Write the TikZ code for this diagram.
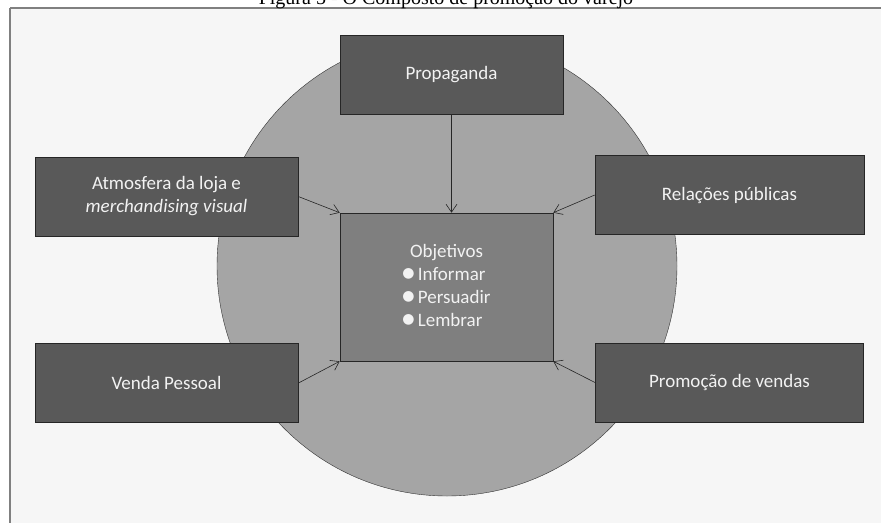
\documentclass[tikz,border=0pt]{standalone}
\usepackage{fontspec}
\setmainfont{Carlito}
\newfontfamily\capfont{Liberation Serif}
\newfontfamily\symfont{DejaVu Sans}
\usepackage{tikz}
\usetikzlibrary{positioning, arrows.meta}
\usepackage{xcolor}
\definecolor{boxgray}{HTML}{595959}
\definecolor{midgray}{HTML}{7F7F7F}
\definecolor{ringgray}{HTML}{A5A5A5}
\definecolor{backgray}{HTML}{F6F6F6}
\definecolor{framegray}{HTML}{808080}
\definecolor{textwhite}{HTML}{F2F2F2}
\newcommand{\bul}{\raisebox{2.2pt}{\symfont\fontsize{14}{14}\selectfont ●}\,}

\begin{document}
\begin{tikzpicture}[x=1pt, y=-1pt, ->, >={Straight Barb[length=8pt,width=11pt]}, semithick,
    box/.style={rectangle, draw=black!85, fill=boxgray, text=textwhite, align=center,
      minimum width=263pt, minimum height=79pt, inner sep=0pt, font=\fontsize{19}{23}\selectfont}]
      \useasboundingbox (0,0) rectangle (881,523);
      \clip (0,0) rectangle (881,523);

      % frame and caption
      \fill[backgray] (10,8) rectangle (881,523);
      \draw[-, framegray, line width=1.2pt] (10,8) -- (881,8);
      \draw[-, framegray, line width=2pt] (10,8) -- (10,523);
      \node (cap) at (446,4.5) [anchor=base, inner sep=0pt, font=\capfont\fontsize{20}{20}\selectfont] {Figura 5 - O Composto de promoção do varejo};

      \draw[black!80, thin, fill=ringgray] (447,266) circle (230);

      \node[box, fill=midgray, minimum width=213pt, minimum height=148pt] (obj) at (446.5,287)
        {\begin{tabular}{@{}l@{}}\multicolumn{1}{@{}c@{}}{Objetivos}\\ \bul Informar\\ \bul Persuadir\\ \bul Lembrar\end{tabular}};
      \node[box, minimum width=223pt] (prop) [above=98pt of obj, xshift=5pt] {Propaganda};
      \node[box] (atm) at (166.5,196.5) {Atmosfera da loja e\\ \textit{merchandising visual}};
      \node[box] (venda) [below=107pt of atm] {Venda Pessoal};
      \node[box, minimum width=269pt] (rel) at (729.5,195) {Relações públicas};
      \node[box, minimum width=268pt] (promo) [below=108pt of rel] {Promoção de vendas};

      \path[black!85] (prop.south) edge (prop.south |- obj.north)
            (atm.east) edge (obj.north west)
            (venda.east) edge (obj.south west)
            (rel.west) edge (obj.north east)
            (promo.west) edge (obj.south east)
            ;
    \end{tikzpicture}
\end{document}
